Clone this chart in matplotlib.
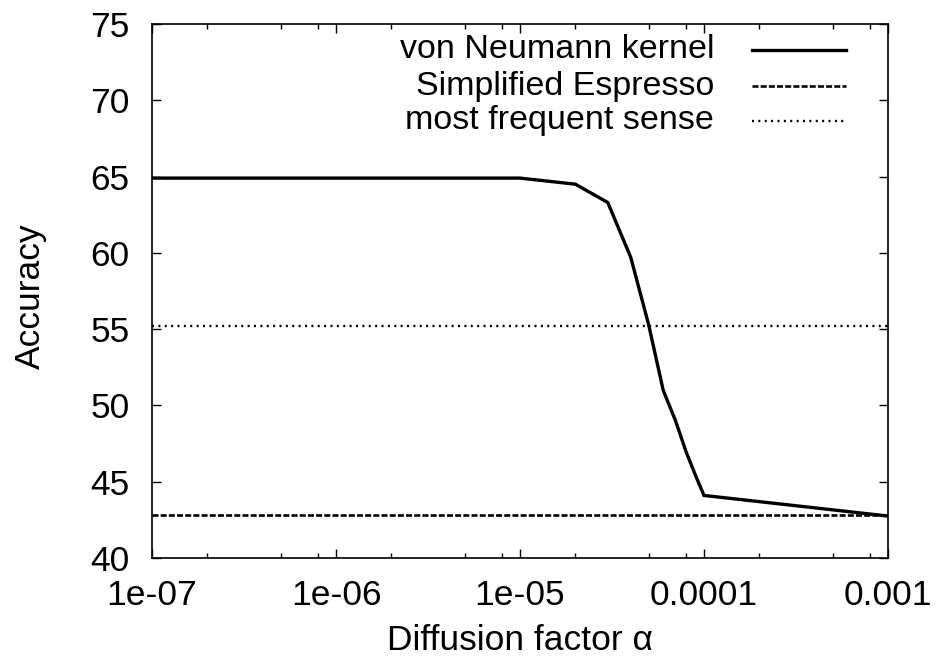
import matplotlib
matplotlib.use("Agg")
import matplotlib.pyplot as plt
from matplotlib.ticker import LogLocator, NullFormatter, FixedLocator
from matplotlib.lines import Line2D

plt.rcParams['font.family'] = ['Liberation Sans', 'DejaVu Sans']

# Data
alpha = [1e-7, 1e-6, 1e-5, 2e-5, 3e-5, 4e-5, 5e-5, 6e-5, 7e-5, 8e-5, 9e-5, 1e-4, 1e-3]
accuracy = [64.9, 64.9, 64.9, 64.5, 63.3, 59.7, 55.3, 51.0, 49.0, 46.95, 45.4, 44.1, 42.75]
espresso = 42.8
mfs = 55.2
series_labels = ["von Neumann kernel", "Simplified Espresso", "most frequent sense"]
xtick_vals = [1e-7, 1e-6, 1e-5, 1e-4, 1e-3]
xtick_labels = ["1e-07", "1e-06", "1e-05", "0.0001", "0.001"]
ytick_vals = [40, 45, 50, 55, 60, 65, 70, 75]

W, H = 936, 662
fig = plt.figure(figsize=(W / 100, H / 100), dpi=100)
l, r, b, t = 152, 888, 558, 24
ax = fig.add_axes([l / W, (H - b) / H, (r - l) / W, (b - t) / H])

FS = 25.5
LFS = 24.5
lw_solid = 2.4
lw_dash = 1.9
lw_dot = 1.7
dash_style = (0, (2.27, 0.83))
dot_style = (0, (0.85, 1.85))

ax.plot(alpha, accuracy, color='black', lw=lw_solid, solid_joinstyle='miter')
ax.axhline(espresso, color='black', lw=lw_dash, linestyle=dash_style)
ax.axhline(mfs, color='black', lw=lw_dot, linestyle=dot_style)

ax.set_xscale('log')
ax.set_xlim(1e-7, 1e-3)
ax.set_ylim(40, 75)
ax.xaxis.set_major_locator(FixedLocator(xtick_vals))
ax.set_xticklabels(xtick_labels)
ax.xaxis.set_minor_locator(LogLocator(base=10, subs=[2, 5, 8]))
ax.xaxis.set_minor_formatter(NullFormatter())
ax.set_yticks(ytick_vals)
ax.set_yticklabels([str(v) for v in ytick_vals])

ax.tick_params(which='both', direction='in', top=True, right=True, width=1.0, color='black')
ax.tick_params(which='major', length=6.5)
ax.tick_params(which='minor', length=3.5)
ax.tick_params(axis='x', which='major', labelsize=FS, pad=15)
ax.tick_params(axis='y', which='major', labelsize=FS, pad=16)
for s in ax.spines.values():
    s.set_linewidth(1.2)

fig.text(520 / W, 1 - 640 / H, "Diffusion factor α", ha='center', va='center', fontsize=FS)
fig.text(30 / W, 1 - 296 / H, "Accuracy", ha='center', va='center', rotation=90, fontsize=FS)

# Legend (manual, gnuplot-style: right-aligned text, sample to the right)
styles = [dict(lw=lw_solid, linestyle='-'), dict(lw=lw_dash, linestyle=dash_style), dict(lw=lw_dot, linestyle=dot_style)]
row_y = [50, 86, 121]
for lab, st, yy in zip(series_labels, styles, row_y):
    fy = 1 - yy / H
    fig.text(714 / W, fy - 8.5 / H, lab, ha='right', va='baseline', fontsize=LFS)
    fig.add_artist(Line2D([752 / W, 846 / W], [fy, fy], transform=fig.transFigure, color='black', **st))

fig.savefig("out.png", dpi=100)
